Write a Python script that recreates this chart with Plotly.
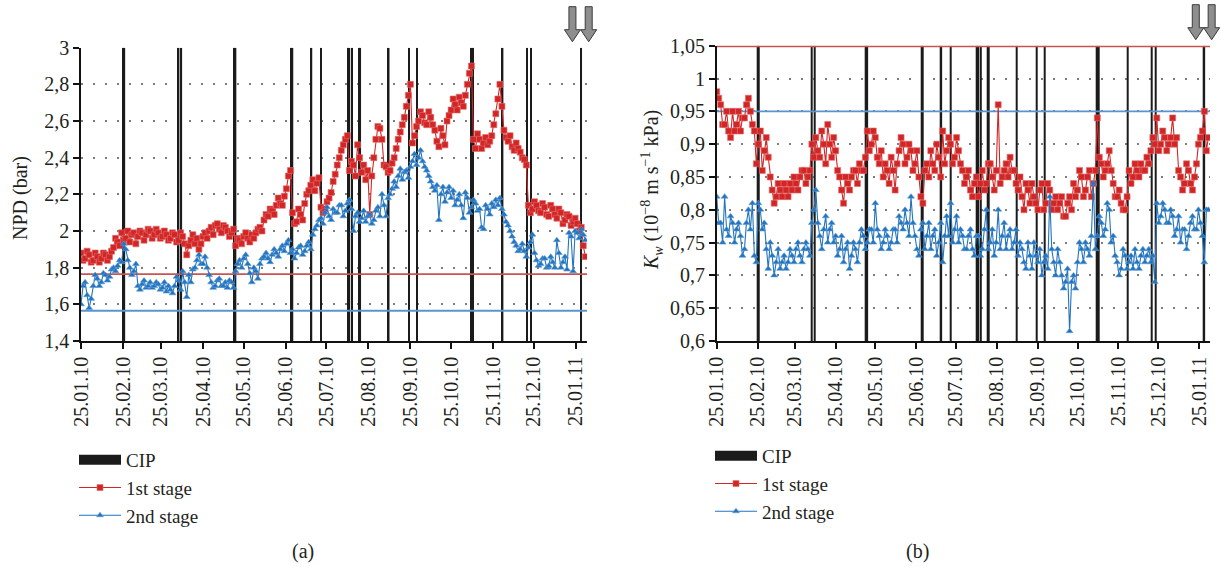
import plotly.graph_objects as go
import pandas as pd

# ---------------- data ----------------
START_DATE = "2010-01-25"
STEP = "3D"
MID_OFFSET = "36h"   # second reading set, taken half-way between the first

npd_1st = [
    1.88, 1.85, 1.87, 1.84, 1.86, 1.85, 1.87, 1.86, 1.91, 1.94,
    1.99, 1.96, 1.94, 1.99, 1.97, 1.99, 1.98, 2.00, 1.98, 1.99,
    1.97, 1.98, 1.96, 1.98, 1.95, 1.97, 1.87, 1.95, 1.93, 1.90,
    1.97, 1.96, 2.02, 2.03, 2.01, 2.03, 2.00, 1.99, 1.92, 1.95,
    1.97, 1.96, 1.98, 1.99, 2.02, 2.06, 2.08, 2.11, 2.14, 2.15,
    2.19, 2.30, 2.10, 2.05, 2.09, 2.15, 2.22, 2.28, 2.26, 2.13,
    2.12, 2.18, 2.27, 2.36, 2.44, 2.50, 2.33, 2.36, 2.47, 2.32,
    2.28, 2.09, 2.40, 2.57, 2.50, 2.35, 2.33, 2.40, 2.50, 2.58,
    2.68, 2.80, 2.52, 2.60, 2.63, 2.58, 2.62, 2.55, 2.46, 2.52,
    2.60, 2.66, 2.69, 2.73, 2.68, 2.80, 2.90, 2.45, 2.50, 2.48,
    2.47, 2.52, 2.64, 2.80, 2.55, 2.49, 2.46, 2.48, 2.43, 2.39,
    2.14, 2.12, 2.14, 2.10, 2.13, 2.08, 2.12, 2.07, 2.10, 2.06,
    2.08, 2.05, 2.04, 2.02, 1.86,
]
npd_1st_mid = [
    1.84, 1.89, 1.83, 1.88, 1.83, 1.88, 1.84, 1.89, 1.96, 1.92,
    1.95, 2.00, 1.98, 1.93, 2.00, 1.95, 2.01, 1.96, 2.01, 1.96,
    2.00, 1.95, 1.99, 1.94, 1.99, 1.93, 1.92, 1.98, 1.96, 1.93,
    1.99, 2.00, 1.98, 2.04, 1.99, 2.02, 1.97, 2.01, 1.96, 1.93,
    1.99, 1.94, 1.96, 2.01, 2.00, 2.09, 2.12, 2.09, 2.18, 2.14,
    2.23, 2.33, 2.04, 2.12, 2.06, 2.20, 2.25, 2.22, 2.29, 2.10,
    2.16, 2.21, 2.31, 2.40, 2.47, 2.52, 2.38, 2.30, 2.40, 2.36,
    2.33, 2.30, 2.50, 2.56, 2.36, 2.32, 2.37, 2.45, 2.54, 2.62,
    2.74, 2.48, 2.57, 2.65, 2.59, 2.65, 2.58, 2.49, 2.56, 2.47,
    2.63, 2.72, 2.66, 2.70, 2.74, 2.86, 2.50, 2.53, 2.45, 2.51,
    2.49, 2.58, 2.72, 2.68, 2.51, 2.52, 2.44, 2.45, 2.40, 2.36,
    2.10, 2.16, 2.11, 2.15, 2.09, 2.14, 2.09, 2.12, 2.04, 2.09,
    2.03, 2.07, 2.00, 1.92,
]
npd_2nd = [
    1.60, 1.72, 1.58, 1.70, 1.74, 1.72, 1.76, 1.75, 1.80, 1.81,
    1.83, 1.90, 1.80, 1.78, 1.70, 1.71, 1.69, 1.72, 1.70, 1.71,
    1.69, 1.67, 1.68, 1.70, 1.73, 1.78, 1.64, 1.72, 1.80, 1.87,
    1.82, 1.80, 1.72, 1.70, 1.74, 1.70, 1.69, 1.72, 1.78, 1.84,
    1.85, 1.82, 1.72, 1.78, 1.82, 1.86, 1.85, 1.87, 1.88, 1.90,
    1.89, 1.95, 1.90, 1.88, 1.92, 1.89, 1.94, 1.98, 2.03, 2.07,
    2.10, 2.08, 2.12, 2.10, 2.14, 2.11, 2.17, 2.00, 2.10, 2.07,
    2.05, 2.09, 2.06, 2.13, 2.20, 2.08, 2.20, 2.27, 2.30, 2.28,
    2.33, 2.35, 2.42, 2.40, 2.38, 2.33, 2.27, 2.22, 2.06, 2.24,
    2.21, 2.18, 2.14, 2.20, 2.07, 2.18, 2.13, 2.15, 2.12, 2.01,
    2.12, 2.15, 2.17, 2.18, 2.09, 2.03, 1.97, 1.92, 1.90, 1.89,
    1.91, 1.98, 1.84, 1.82, 1.85, 1.81, 1.83, 1.95, 1.80, 1.86,
    1.99, 1.78, 1.99, 2.01, 1.95,
]
npd_2nd_mid = [
    1.70, 1.65, 1.63, 1.76, 1.70, 1.77, 1.73, 1.79, 1.78, 1.84,
    1.93, 1.84, 1.76, 1.82, 1.68, 1.73, 1.70, 1.69, 1.72, 1.68,
    1.72, 1.70, 1.66, 1.75, 1.68, 1.72, 1.76, 1.79, 1.84, 1.82,
    1.86, 1.76, 1.69, 1.73, 1.70, 1.72, 1.73, 1.69, 1.82, 1.80,
    1.87, 1.77, 1.80, 1.74, 1.85, 1.88, 1.83, 1.90, 1.86, 1.92,
    1.93, 1.88, 1.85, 1.91, 1.87, 1.92, 1.90, 2.01, 2.06, 2.04,
    2.13, 2.06, 2.10, 2.14, 2.08, 2.15, 2.12, 2.08, 2.05, 2.11,
    2.08, 2.04, 2.11, 2.08, 2.14, 2.18, 2.23, 2.24, 2.34, 2.32,
    2.29, 2.38, 2.36, 2.44, 2.35, 2.30, 2.24, 2.25, 2.20, 2.16,
    2.24, 2.22, 2.17, 2.14, 2.21, 2.10, 2.17, 2.11, 2.02, 2.14,
    2.09, 2.13, 2.14, 2.12, 2.05, 2.00, 1.94, 1.89, 1.93, 1.86,
    1.94, 1.88, 1.81, 1.85, 1.80, 1.86, 1.80, 1.88, 1.83, 1.79,
    1.97, 2.00, 1.96, 1.98,
]
kw_1st = [
    0.98, 0.96, 0.93, 0.92, 0.95, 0.93, 0.92, 0.94, 0.97, 0.93,
    0.87, 0.92, 0.89, 0.88, 0.83, 0.82, 0.83, 0.84, 0.82, 0.83,
    0.84, 0.85, 0.86, 0.85, 0.90, 0.91, 0.88, 0.90, 0.93, 0.88,
    0.89, 0.85, 0.81, 0.84, 0.85, 0.86, 0.87, 0.86, 0.92, 0.90,
    0.91, 0.87, 0.85, 0.86, 0.88, 0.83, 0.89, 0.90, 0.88, 0.89,
    0.87, 0.85, 0.81, 0.87, 0.89, 0.86, 0.88, 0.92, 0.89, 0.90,
    0.88, 0.89, 0.86, 0.85, 0.83, 0.84, 0.82, 0.86, 0.84, 0.87,
    0.83, 0.96, 0.85, 0.87, 0.88, 0.86, 0.83, 0.82, 0.84, 0.81,
    0.82, 0.80, 0.84, 0.81, 0.83, 0.81, 0.80, 0.82, 0.79, 0.82,
    0.84, 0.83, 0.85, 0.83, 0.86, 0.84, 0.94, 0.87, 0.86, 0.89,
    0.84, 0.82, 0.81, 0.80, 0.86, 0.85, 0.86, 0.87, 0.86, 0.87,
    0.91, 0.94, 0.90, 0.91, 0.90, 0.94, 0.91, 0.85, 0.84, 0.86,
    0.83, 0.87, 0.91, 0.95, 0.91,
]
kw_1st_mid = [
    0.97, 0.93, 0.95, 0.91, 0.92, 0.95, 0.94, 0.96, 0.95, 0.92,
    0.90, 0.86, 0.91, 0.85, 0.81, 0.84, 0.82, 0.83, 0.84, 0.85,
    0.83, 0.86, 0.84, 0.86, 0.88, 0.89, 0.92, 0.87, 0.90, 0.91,
    0.86, 0.83, 0.85, 0.83, 0.86, 0.84, 0.86, 0.88, 0.89, 0.92,
    0.88, 0.89, 0.87, 0.84, 0.86, 0.87, 0.91, 0.87, 0.90, 0.86,
    0.89, 0.82, 0.86, 0.85, 0.87, 0.90, 0.85, 0.87, 0.91, 0.87,
    0.91, 0.87, 0.84, 0.86, 0.82, 0.85, 0.84, 0.83, 0.87, 0.85,
    0.86, 0.84, 0.86, 0.85, 0.86, 0.84, 0.85, 0.80, 0.83, 0.84,
    0.81, 0.83, 0.80, 0.84, 0.80, 0.82, 0.81, 0.79, 0.81, 0.80,
    0.82, 0.86, 0.82, 0.85, 0.82, 0.86, 0.88, 0.85, 0.87, 0.86,
    0.82, 0.83, 0.80, 0.82, 0.84, 0.87, 0.85, 0.86, 0.88, 0.89,
    0.90, 0.89, 0.92, 0.89, 0.91, 0.90, 0.86, 0.83, 0.87, 0.84,
    0.85, 0.90, 0.92, 0.89,
]
kw_2nd = [
    0.82, 0.78, 0.82, 0.76, 0.78, 0.77, 0.76, 0.74, 0.80, 0.81,
    0.72, 0.80, 0.78, 0.71, 0.73, 0.72, 0.71, 0.73, 0.72, 0.73,
    0.74, 0.73, 0.74, 0.74, 0.78, 0.83, 0.76, 0.77, 0.75, 0.78,
    0.76, 0.74, 0.72, 0.75, 0.73, 0.74, 0.75, 0.76, 0.75, 0.77,
    0.81, 0.76, 0.75, 0.76, 0.75, 0.77, 0.79, 0.77, 0.78, 0.82,
    0.76, 0.73, 0.78, 0.76, 0.74, 0.77, 0.75, 0.72, 0.79, 0.81,
    0.77, 0.75, 0.76, 0.74, 0.77, 0.73, 0.76, 0.74, 0.80, 0.75,
    0.73, 0.80, 0.76, 0.74, 0.77, 0.75, 0.73, 0.74, 0.71, 0.73,
    0.75, 0.72, 0.70, 0.73, 0.82, 0.72, 0.74, 0.70, 0.69, 0.615,
    0.70, 0.72, 0.74, 0.75, 0.73, 0.84, 0.76, 0.78, 0.77, 0.80,
    0.76, 0.72, 0.71, 0.73, 0.72, 0.71, 0.72, 0.73, 0.72, 0.74,
    0.73, 0.81, 0.79, 0.80, 0.78, 0.79, 0.77, 0.75, 0.77, 0.76,
    0.79, 0.77, 0.78, 0.72, 0.80,
]
kw_2nd_mid = [
    0.78, 0.75, 0.77, 0.79, 0.75, 0.78, 0.73, 0.78, 0.77, 0.73,
    0.81, 0.77, 0.74, 0.75, 0.70, 0.74, 0.72, 0.71, 0.74, 0.72,
    0.75, 0.72, 0.75, 0.73, 0.80, 0.78, 0.74, 0.79, 0.77, 0.75,
    0.73, 0.76, 0.74, 0.71, 0.75, 0.72, 0.77, 0.74, 0.77, 0.75,
    0.77, 0.74, 0.77, 0.74, 0.77, 0.75, 0.78, 0.80, 0.76, 0.78,
    0.74, 0.77, 0.74, 0.78, 0.76, 0.73, 0.78, 0.76, 0.76, 0.75,
    0.79, 0.77, 0.74, 0.76, 0.74, 0.76, 0.73, 0.77, 0.74, 0.77,
    0.75, 0.74, 0.78, 0.76, 0.74, 0.77, 0.75, 0.72, 0.75, 0.71,
    0.73, 0.74, 0.72, 0.71, 0.74, 0.70, 0.72, 0.68, 0.71, 0.69,
    0.68, 0.75, 0.72, 0.74, 0.76, 0.74, 0.79, 0.76, 0.81, 0.75,
    0.73, 0.70, 0.74, 0.71, 0.73, 0.74, 0.71, 0.74, 0.73, 0.72,
    0.69, 0.78, 0.81, 0.78, 0.80, 0.76, 0.79, 0.77, 0.74, 0.78,
    0.77, 0.80, 0.76, 0.80,
]

cip_dates = [
    "2010-02-25", "2010-02-26", "2010-04-07", "2010-04-09",
    "2010-05-18", "2010-05-19", "2010-06-29", "2010-06-30",
    "2010-07-14", "2010-07-21", "2010-08-10", "2010-08-11",
    "2010-08-13", "2010-08-18", "2010-08-19", "2010-09-09",
    "2010-09-24", "2010-09-30", "2010-11-09", "2010-11-10",
    "2010-12-02", "2010-12-20", "2010-12-23", "2011-01-29",
]

npd_limit_1st, npd_limit_2nd = 1.765, 1.565
kw_limit_1st, kw_limit_2nd = 1.05, 0.95
limit_line_dates = ["2010-01-25", "2011-02-05"]
limit_marker_date = ["2011-02-10"]
arrow_dates = ["2011-01-22 12:00", "2011-02-03 12:00"]

x_range = ["2010-01-25", "2011-02-02 06:00"]
npd_range = [1.4, 3.0]
kw_range = [0.6, 1.05]

series_names = ["CIP", "1st stage", "2nd stage"]
panel_labels = ["(a)", "(b)"]
npd_title = "NPD (bar)"
kw_title = "<i>K</i><sub><i>w</i></sub> (10<sup>\u22128</sup> m s<sup>\u22121</sup> kPa)"

# ---------------- style ----------------
FONT = "Liberation Serif, Times New Roman, DejaVu Serif, serif"
TXT = "#231f20"
RED = "#d12626"
RED_EDGE = "#e56a6a"
BLUE = "#2373bd"
BLUE_EDGE = "#5a9ad6"
RED_LIM = "#c85452"
BLUE_LIM = "#5d93cf"
CIP_COL = "#1b1b1b"
FS = 20
LEG_FS = 19

W, H = 1221, 567
xdom_a = [81 / W, 587 / W]
xdom_b = [716.7 / W, 1210 / W]
ydom_a = [1 - 341 / H, 1 - 47.7 / H]
ydom_b = [1 - 341 / H, 1 - 45.7 / H]

dates_main = pd.date_range(START_DATE, periods=len(npd_1st), freq=STEP)
dates_mid = pd.date_range(pd.Timestamp(START_DATE) + pd.Timedelta(MID_OFFSET),
                          periods=len(npd_1st_mid), freq=STEP)


def merged(main_vals, mid_vals):
    s = pd.concat([pd.Series(main_vals, index=dates_main),
                   pd.Series(mid_vals, index=dates_mid)]).sort_index()
    return s.index, s.values


DAY_MS = 86400000
fig = go.Figure()


def add_panel(xa, ya, leg, yr, s1, s1m, s2, s2m, lim1, lim2):
    fig.add_trace(go.Bar(
        x=cip_dates, y=[yr[1] - yr[0]] * len(cip_dates), base=yr[0],
        width=1.15 * DAY_MS, marker=dict(color=CIP_COL, line=dict(width=0)),
        showlegend=False, xaxis=xa, yaxis=ya, hoverinfo="skip"))
    for lim, col in ((lim1, RED_LIM), (lim2, BLUE_LIM)):
        fig.add_trace(go.Scatter(
            x=limit_line_dates, y=[lim, lim], mode="lines",
            line=dict(color=col, width=3 if lim >= yr[1] else 1.8),
            showlegend=False, xaxis=xa, yaxis=ya, hoverinfo="skip"))
    fig.add_trace(go.Scatter(
        x=[None], y=[None], mode="lines", name=series_names[0],
        line=dict(color=CIP_COL, width=10), legend=leg, legendrank=1,
        xaxis=xa, yaxis=ya))
    x1, y1 = merged(s1, s1m)
    fig.add_trace(go.Scatter(
        x=x1, y=y1, mode="lines+markers", name=series_names[1],
        line=dict(color=RED, width=1.1),
        marker=dict(symbol="square", size=6, color=RED,
                    line=dict(color=RED_EDGE, width=0.6)),
        legend=leg, legendrank=2, xaxis=xa, yaxis=ya))
    x2, y2 = merged(s2, s2m)
    fig.add_trace(go.Scatter(
        x=x2, y=y2, mode="lines+markers", name=series_names[2],
        line=dict(color=BLUE, width=1.1),
        marker=dict(symbol="triangle-up", size=6, color=BLUE,
                    line=dict(color=BLUE_EDGE, width=0.6)),
        legend=leg, legendrank=3, xaxis=xa, yaxis=ya))
    fig.add_trace(go.Scatter(
        x=limit_marker_date, y=[lim1], mode="markers", cliponaxis=False,
        marker=dict(symbol="square", size=8, color="#b82828"),
        showlegend=False, xaxis=xa, yaxis=ya, hoverinfo="skip"))
    fig.add_trace(go.Scatter(
        x=limit_marker_date, y=[lim2], mode="markers", cliponaxis=False,
        marker=dict(symbol="triangle-up", size=10, color="#2a78c4"),
        showlegend=False, xaxis=xa, yaxis=ya, hoverinfo="skip"))


add_panel("x", "y", "legend", npd_range, npd_1st, npd_1st_mid, npd_2nd, npd_2nd_mid,
          npd_limit_1st, npd_limit_2nd)
add_panel("x2", "y2", "legend2", kw_range, kw_1st, kw_1st_mid, kw_2nd, kw_2nd_mid,
          kw_limit_1st, kw_limit_2nd)

xaxis_common = dict(
    type="date", range=x_range, tick0=START_DATE, dtick="M1",
    tickformat="%d.%m.%y", tickangle=-90, showline=True, linecolor="#111",
    linewidth=1.5, ticks="outside", ticklen=6, tickwidth=1.5, tickcolor="#111",
    showgrid=False, zeroline=False, automargin=False,
    tickfont=dict(size=FS, color=TXT, family=FONT), fixedrange=True)
yaxis_common = dict(
    showline=True, linecolor="#111", linewidth=1.5, ticks="outside", ticklen=6,
    tickwidth=1.5, tickcolor="#111", showgrid=True, gridcolor="#7d7d7d",
    griddash="2px,10px", gridwidth=1.5, zeroline=False, automargin=False,
    tickfont=dict(size=FS, color=TXT, family=FONT), fixedrange=True)

legend_common = dict(xanchor="left", yanchor="top", bgcolor="rgba(0,0,0,0)",
                     font=dict(size=LEG_FS, family=FONT, color=TXT),
                     traceorder="normal", itemwidth=42)

fig.update_layout(
    width=W, height=H, margin=dict(l=0, r=0, t=0, b=0, pad=0, autoexpand=False),
    paper_bgcolor="white", plot_bgcolor="white", separators=", ",
    font=dict(family=FONT, size=FS, color=TXT),
    barmode="overlay",
    xaxis=dict(domain=xdom_a, anchor="y", **xaxis_common),
    yaxis=dict(domain=ydom_a, anchor="x", range=npd_range, tick0=1.4, dtick=0.2, **yaxis_common),
    xaxis2=dict(domain=xdom_b, anchor="y2", **xaxis_common),
    yaxis2=dict(domain=ydom_b, anchor="x2", range=kw_range, tick0=0.6, dtick=0.05, **yaxis_common),
    legend=dict(x=74 / W, y=1 - 441 / H, **legend_common),
    legend2=dict(x=710 / W, y=1 - 437 / H, **legend_common),
    showlegend=True,
)

ann_font = dict(size=FS, family=FONT, color=TXT)
fig.add_annotation(x=20 / W, y=1 - 198 / H, xref="paper", yref="paper",
                   xanchor="center", yanchor="middle",
                   text=npd_title, textangle=-90, showarrow=False, font=ann_font)
fig.add_annotation(x=652 / W, y=1 - 190 / H, xref="paper", yref="paper",
                   xanchor="center", yanchor="middle",
                   text=kw_title, textangle=-90, showarrow=False, font=ann_font)
fig.add_annotation(x=303 / W, y=1 - 551 / H, xref="paper", yref="paper",
                   xanchor="center", yanchor="middle",
                   text=panel_labels[0], showarrow=False, font=ann_font)
fig.add_annotation(x=917 / W, y=1 - 551 / H, xref="paper", yref="paper",
                   xanchor="center", yanchor="middle",
                   text=panel_labels[1], showarrow=False, font=ann_font)

# downward block arrows above each panel, placed through the x scale
r0, r1 = pd.Timestamp(x_range[0]), pd.Timestamp(x_range[1])
arrow_path = "M0,6 L-8,18 L-3.5,18 L-3.5,41 L3.5,41 L3.5,18 L8,18 Z"
for dom, ydom in ((xdom_a, ydom_a), (xdom_b, ydom_b)):
    for d in arrow_dates:
        frac = (pd.Timestamp(d) - r0) / (r1 - r0)
        px = dom[0] + frac * (dom[1] - dom[0])
        fig.add_shape(type="path", xref="paper", yref="paper",
                      xsizemode="pixel", ysizemode="pixel",
                      xanchor=px, yanchor=ydom[1], path=arrow_path,
                      fillcolor="#8e8e8e", line=dict(color="#3a3a3a", width=1))

fig.write_html("out.html")
